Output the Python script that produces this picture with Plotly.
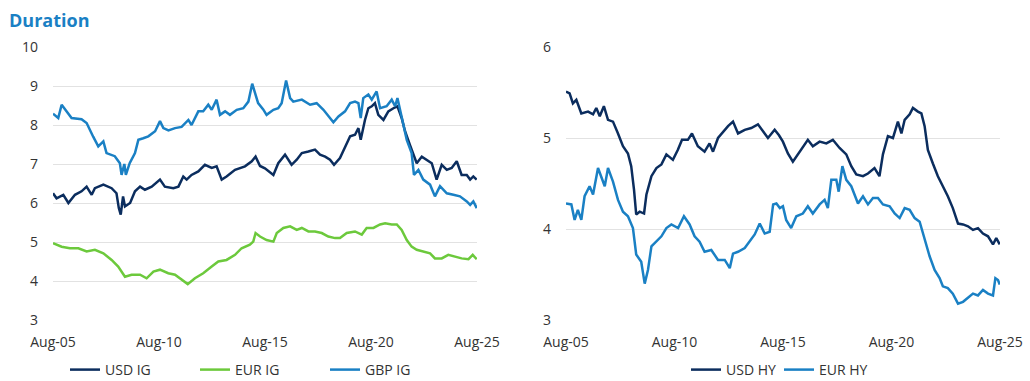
import pandas as pd
import plotly.graph_objects as go

# ---------------- data (decimal years, values) ----------------
usd_ig_t = [2005.583, 2005.75, 2006.07, 2006.31, 2006.62, 2006.93, 2007.17, 2007.41, 2007.56, 2007.96,
            2008.35, 2008.58, 2008.69, 2008.78, 2008.89, 2008.98, 2009.22, 2009.45, 2009.69, 2009.92,
            2010.24, 2010.63, 2010.86, 2011.26, 2011.50, 2011.73, 2011.89, 2012.12, 2012.44, 2012.75,
            2013.07, 2013.30, 2013.54, 2013.77, 2014.17, 2014.64, 2014.96, 2015.14, 2015.35, 2015.58,
            2015.98, 2016.21, 2016.53, 2016.84, 2017.08, 2017.32, 2017.63, 2017.94, 2018.18, 2018.42,
            2018.65, 2018.84, 2019.12, 2019.36, 2019.60, 2019.83, 2019.99, 2020.10, 2020.30, 2020.46,
            2020.62, 2020.77, 2020.93, 2021.17, 2021.40, 2021.64, 2021.83, 2022.03, 2022.19, 2022.42,
            2022.58, 2022.74, 2022.98, 2023.21, 2023.45, 2023.68, 2023.92, 2024.16, 2024.39, 2024.63,
            2024.86, 2025.10, 2025.26, 2025.41, 2025.57]
usd_ig_v = [6.25, 6.12, 6.21, 6.00, 6.21, 6.30, 6.42, 6.21, 6.38, 6.47,
            6.38, 6.25, 5.87, 5.70, 6.17, 5.91, 6.00, 6.30, 6.42, 6.34,
            6.42, 6.60, 6.42, 6.38, 6.42, 6.68, 6.60, 6.72, 6.81, 6.98,
            6.90, 6.94, 6.60, 6.68, 6.85, 6.94, 7.07, 7.19, 6.95, 6.89,
            6.72, 7.02, 7.24, 6.98, 7.11, 7.28, 7.32, 7.37, 7.24, 7.19,
            7.11, 6.98, 7.15, 7.45, 7.71, 7.75, 7.92, 7.62, 8.13, 8.43,
            8.48, 8.56, 8.26, 8.13, 8.35, 8.43, 8.48, 8.18, 7.84, 7.49,
            7.24, 7.02, 7.19, 7.11, 7.02, 6.60, 6.98, 6.85, 6.90, 7.07,
            6.72, 6.72, 6.60, 6.68, 6.60]

eur_ig_t = [2005.583, 2005.99, 2006.38, 2006.78, 2007.17, 2007.56, 2007.96, 2008.35, 2008.66, 2008.98,
            2009.29, 2009.69, 2010.00, 2010.32, 2010.63, 2011.02, 2011.34, 2011.65, 2011.94, 2012.28,
            2012.67, 2013.07, 2013.38, 2013.77, 2014.17, 2014.48, 2014.87, 2015.03, 2015.14, 2015.35,
            2015.66, 2015.98, 2016.14, 2016.45, 2016.77, 2017.08, 2017.32, 2017.63, 2017.94, 2018.26,
            2018.57, 2018.89, 2019.12, 2019.44, 2019.83, 2020.15, 2020.38, 2020.70, 2021.01, 2021.25,
            2021.56, 2021.80, 2022.03, 2022.27, 2022.50, 2022.74, 2023.05, 2023.37, 2023.60, 2023.92,
            2024.23, 2024.55, 2024.86, 2025.18, 2025.38, 2025.57]
eur_ig_v = [4.97, 4.88, 4.84, 4.84, 4.76, 4.80, 4.71, 4.54, 4.37, 4.11,
            4.16, 4.16, 4.07, 4.24, 4.29, 4.20, 4.16, 4.03, 3.92, 4.07,
            4.20, 4.37, 4.50, 4.54, 4.67, 4.84, 4.93, 5.01, 5.23, 5.14,
            5.05, 5.01, 5.23, 5.36, 5.40, 5.31, 5.36, 5.27, 5.27, 5.23,
            5.14, 5.10, 5.10, 5.23, 5.27, 5.19, 5.36, 5.36, 5.45, 5.48,
            5.45, 5.45, 5.31, 5.05, 4.88, 4.80, 4.76, 4.71, 4.58, 4.58,
            4.67, 4.63, 4.58, 4.56, 4.67, 4.56]

gbp_ig_t = [2005.583, 2005.83, 2005.99, 2006.46, 2006.93, 2007.17, 2007.48, 2007.72, 2007.96, 2008.11,
            2008.50, 2008.74, 2008.82, 2008.95, 2009.02, 2009.20, 2009.45, 2009.61, 2009.84, 2010.08,
            2010.40, 2010.63, 2010.79, 2011.03, 2011.34, 2011.65, 2011.97, 2012.12, 2012.44, 2012.67,
            2012.91, 2013.07, 2013.30, 2013.46, 2013.70, 2013.93, 2014.25, 2014.56, 2014.80, 2014.98,
            2015.26, 2015.50, 2015.66, 2015.98, 2016.21, 2016.37, 2016.58, 2016.77, 2016.92, 2017.32,
            2017.71, 2018.02, 2018.34, 2018.65, 2018.81, 2019.05, 2019.36, 2019.60, 2019.83, 2019.99,
            2020.10, 2020.22, 2020.46, 2020.62, 2020.85, 2021.01, 2021.32, 2021.56, 2021.72, 2021.83,
            2022.03, 2022.27, 2022.50, 2022.61, 2022.82, 2023.05, 2023.37, 2023.60, 2023.84, 2024.16,
            2024.47, 2024.78, 2025.10, 2025.26, 2025.41, 2025.57]
gbp_ig_v = [8.29, 8.18, 8.52, 8.18, 8.15, 8.05, 7.70, 7.45, 7.58, 7.28,
            7.20, 7.02, 6.72, 7.00, 6.72, 7.02, 7.28, 7.62, 7.66, 7.71,
            7.84, 8.10, 7.92, 7.86, 7.92, 7.95, 8.13, 8.00, 8.35, 8.35,
            8.52, 8.39, 8.65, 8.26, 8.35, 8.26, 8.39, 8.43, 8.60, 9.06,
            8.56, 8.40, 8.26, 8.39, 8.43, 8.56, 9.14, 8.69, 8.60, 8.65,
            8.52, 8.56, 8.39, 8.18, 8.07, 8.22, 8.35, 8.56, 8.60, 8.56,
            8.18, 8.69, 8.78, 8.65, 8.86, 8.43, 8.48, 8.65, 8.48, 8.69,
            8.22, 7.62, 7.28, 6.72, 6.85, 6.60, 6.47, 6.17, 6.43, 6.25,
            6.21, 6.17, 6.04, 5.95, 6.04, 5.87]

usd_hy_t = [2005.583, 2005.75, 2005.90, 2006.06, 2006.29, 2006.60, 2006.83, 2006.98, 2007.14, 2007.33,
            2007.52, 2007.75, 2007.98, 2008.21, 2008.44, 2008.59, 2008.72, 2008.82, 2008.98, 2009.18,
            2009.29, 2009.52, 2009.75, 2009.98, 2010.21, 2010.51, 2010.74, 2010.93, 2011.20, 2011.39,
            2011.66, 2011.97, 2012.20, 2012.36, 2012.59, 2012.82, 2013.05, 2013.28, 2013.51, 2013.82,
            2014.12, 2014.43, 2014.66, 2014.89, 2015.20, 2015.40, 2015.58, 2015.81, 2016.04, 2016.27,
            2016.50, 2016.73, 2016.96, 2017.27, 2017.58, 2017.88, 2018.19, 2018.50, 2018.73, 2018.96,
            2019.27, 2019.50, 2019.80, 2020.03, 2020.19, 2020.42, 2020.65, 2020.88, 2021.04, 2021.19,
            2021.42, 2021.57, 2021.80, 2021.96, 2022.11, 2022.26, 2022.49, 2022.72, 2022.95, 2023.18,
            2023.41, 2023.65, 2023.88, 2024.11, 2024.34, 2024.57, 2024.80, 2025.03, 2025.26, 2025.41,
            2025.57]
usd_hy_v = [5.51, 5.49, 5.38, 5.42, 5.27, 5.29, 5.26, 5.33, 5.24, 5.35,
            5.20, 5.18, 5.05, 4.91, 4.83, 4.69, 4.43, 4.16, 4.19, 4.17,
            4.38, 4.58, 4.67, 4.71, 4.82, 4.76, 4.87, 4.98, 4.98, 5.05,
            4.91, 4.85, 4.94, 4.85, 5.00, 5.07, 5.13, 5.18, 5.05, 5.09,
            5.11, 5.15, 5.07, 5.00, 5.09, 5.03, 4.96, 4.83, 4.74, 4.82,
            4.89, 4.98, 4.91, 4.96, 4.94, 4.98, 4.89, 4.82, 4.69, 4.60,
            4.58, 4.61, 4.67, 4.58, 4.82, 5.02, 5.00, 5.18, 5.05, 5.20,
            5.26, 5.33, 5.29, 5.27, 5.13, 4.87, 4.72, 4.58, 4.47, 4.36,
            4.23, 4.06, 4.05, 4.03, 3.99, 4.01, 3.95, 3.92, 3.83, 3.90,
            3.83]

eur_hy_t = [2005.583, 2005.83, 2005.98, 2006.13, 2006.29, 2006.44, 2006.67, 2006.83, 2007.06, 2007.21,
            2007.37, 2007.52, 2007.75, 2007.98, 2008.21, 2008.44, 2008.67, 2008.82, 2009.05, 2009.21,
            2009.36, 2009.52, 2009.75, 2009.98, 2010.21, 2010.44, 2010.75, 2011.02, 2011.28, 2011.51,
            2011.74, 2011.97, 2012.28, 2012.59, 2012.90, 2013.13, 2013.28, 2013.51, 2013.82, 2014.05,
            2014.28, 2014.51, 2014.74, 2014.97, 2015.13, 2015.28, 2015.44, 2015.58, 2015.73, 2015.96,
            2016.20, 2016.50, 2016.73, 2016.96, 2017.27, 2017.50, 2017.65, 2017.81, 2018.04, 2018.15,
            2018.32, 2018.50, 2018.73, 2019.04, 2019.27, 2019.50, 2019.73, 2019.96, 2020.19, 2020.50,
            2020.73, 2020.96, 2021.19, 2021.42, 2021.65, 2021.88, 2022.11, 2022.34, 2022.57, 2022.80,
            2022.95, 2023.18, 2023.41, 2023.65, 2023.88, 2024.11, 2024.34, 2024.57, 2024.80, 2025.03,
            2025.26, 2025.37, 2025.49, 2025.57]
eur_hy_v = [4.28, 4.27, 4.10, 4.21, 4.10, 4.36, 4.47, 4.38, 4.67, 4.58,
            4.47, 4.67, 4.52, 4.32, 4.19, 4.14, 4.01, 3.72, 3.64, 3.40,
            3.55, 3.81, 3.86, 3.92, 4.01, 4.05, 4.01, 4.14, 4.05, 3.92,
            3.86, 3.75, 3.77, 3.66, 3.66, 3.57, 3.73, 3.75, 3.79, 3.86,
            3.94, 4.06, 3.95, 3.97, 4.27, 4.28, 4.23, 4.25, 4.10, 4.01,
            4.14, 4.17, 4.25, 4.17, 4.27, 4.32, 4.23, 4.54, 4.54, 4.41,
            4.69, 4.54, 4.47, 4.28, 4.36, 4.27, 4.34, 4.34, 4.27, 4.25,
            4.17, 4.12, 4.23, 4.21, 4.12, 4.08, 3.88, 3.70, 3.55, 3.46,
            3.37, 3.35, 3.29, 3.18, 3.20, 3.24, 3.29, 3.27, 3.33, 3.29,
            3.27, 3.46, 3.44, 3.39]

tick_years = [2005.583, 2010.583, 2015.583, 2020.583, 2025.583]
tick_labels = ["Aug-05", "Aug-10", "Aug-15", "Aug-20", "Aug-25"]

NAVY = "#0b2d5e"
GREEN = "#6cc93c"
BLUE = "#1a80c4"
FONT = "Open Sans"
TXT = "#333333"


def to_date(y):
    yr = int(y)
    return pd.Timestamp(year=yr, month=1, day=1) + pd.Timedelta(days=(y - yr) * 365.25)


def dates(ts):
    return [to_date(t) for t in ts]


fig = go.Figure()
series_left = [("USD IG", usd_ig_t, usd_ig_v, NAVY),
               ("EUR IG", eur_ig_t, eur_ig_v, GREEN),
               ("GBP IG", gbp_ig_t, gbp_ig_v, BLUE)]
series_right = [("USD HY", usd_hy_t, usd_hy_v, NAVY),
                ("EUR HY", eur_hy_t, eur_hy_v, BLUE)]

for name, t, v, c in series_left:
    fig.add_trace(go.Scatter(x=dates(t), y=v, name=name, mode="lines",
                             line=dict(color=c, width=2.5), xaxis="x", yaxis="y",
                             legend="legend"))
for name, t, v, c in series_right:
    fig.add_trace(go.Scatter(x=dates(t), y=v, name=name, mode="lines",
                             line=dict(color=c, width=2.5), xaxis="x2", yaxis="y2",
                             legend="legend2"))

W, H = 1030, 381
xr = [to_date(2005.583), to_date(2025.583)]
tv = dates(tick_years)
common_x = dict(type="date", range=xr, tickvals=tv, ticktext=tick_labels,
                showgrid=False, zeroline=False, showline=False, ticks="",
                tickfont=dict(family=FONT, size=14, color=TXT),
                ticklabelstandoff=12, ticklabeloverflow="allow", automargin=False)
common_y = dict(dtick=1, showgrid=True, gridcolor="#e2e2e2", gridwidth=1,
                zeroline=False, showline=False, ticks="",
                tickfont=dict(family=FONT, size=14, color=TXT),
                ticklabelstandoff=14, automargin=False)

ydom = [1 - 320 / H, 1 - 47 / H]
fig.update_layout(
    width=W, height=H,
    margin=dict(l=0, r=0, t=0, b=0, autoexpand=False),
    paper_bgcolor="white", plot_bgcolor="white",
    font=dict(family=FONT, size=14, color=TXT),
    xaxis=dict(domain=[53 / W, 477 / W], anchor="y", **common_x),
    yaxis=dict(domain=ydom, range=[3, 10], anchor="x", **common_y),
    xaxis2=dict(domain=[566 / W, 1000 / W], anchor="y2", **common_x),
    yaxis2=dict(domain=ydom, range=[3, 6], anchor="x2", **common_y),
    legend=dict(orientation="h", x=65 / W, y=(H - 370) / H, xanchor="left", yanchor="middle",
                xref="container", yref="container",
                entrywidth=85, entrywidthmode="pixels", bgcolor="rgba(0,0,0,0)",
                font=dict(family=FONT, size=14, color=TXT)),
    legend2=dict(orientation="h", x=686 / W, y=(H - 370) / H, xanchor="left", yanchor="middle",
                 xref="container", yref="container",
                 entrywidth=48, entrywidthmode="pixels", bgcolor="rgba(0,0,0,0)",
                 font=dict(family=FONT, size=14, color=TXT)),
    annotations=[dict(text="<b>Duration</b>", x=7 / W, y=1 - 20 / H, xref="paper", yref="paper",
                      xanchor="left", yanchor="middle", showarrow=False,
                      font=dict(family=FONT, size=18, color=BLUE))],
)

fig.write_html("out.html", config={"displayModeBar": False},
               post_script="document.body.style.margin='0';document.body.style.padding='0';")
